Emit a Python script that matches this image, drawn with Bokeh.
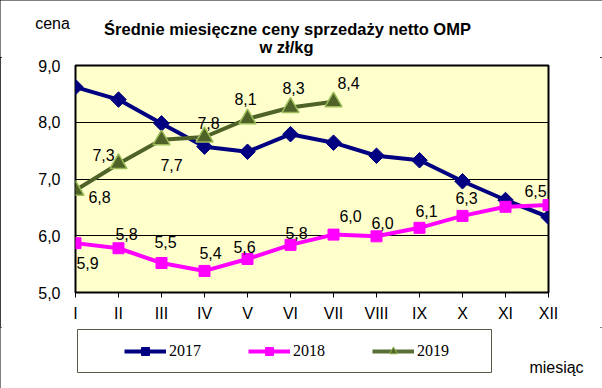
import math
from bokeh.plotting import figure
from bokeh.layouts import column
from bokeh.models import (ColumnDataSource, FixedTicker, Legend, LegendItem, Label,
                          BoxAnnotation, Range1d)
from bokeh.core.properties import value
from bokeh.embed import file_html
from bokeh.resources import INLINE

# ---------------- data ----------------
months = ["I", "II", "III", "IV", "V", "VI", "VII", "VIII", "IX", "X", "XI", "XII"]
y_ticks = [5.0, 6.0, 7.0, 8.0, 9.0]
y_tick_labels = ["5,0", "6,0", "7,0", "8,0", "9,0"]

series_names = ["2017", "2018", "2019"]
price_2017 = [8.62, 8.40, 7.98, 7.57, 7.48, 7.79, 7.64, 7.41, 7.33, 6.96, 6.63, 6.33]
price_2018 = [5.87, 5.78, 5.52, 5.38, 5.59, 5.84, 6.02, 5.99, 6.14, 6.35, 6.51, 6.54]
price_2019 = [6.80, 7.27, 7.69, 7.74, 8.06, 8.26, 8.36]

labels_2018 = ["5,9", "5,8", "5,5", "5,4", "5,6", "5,8", "6,0", "6,0", "6,1", "6,3", "", "6,5"]
labels_2019 = ["6,8", "7,3", "7,7", "7,8", "8,1", "8,3", "8,4"]

title_1 = "Średnie miesięczne ceny sprzedaży netto OMP"
title_2 = "w zł/kg"
y_name = "cena"
x_name = "miesiąc"

# label placement (pixels, style only)
dx_2018 = [12, 8, 4, 6, -3, 6, 17, 6, 7, 4, 0, -13]
dy_2018 = [20, -14, -21, -18, -12, -12, -19, -13, -17, -18, 0, -14]
dx_2019 = [24, -15, 10, 4, -2, 3, 15]
dy_2019 = [7, -9, 25, -14, -20, -19, -19]

FONT = "Liberation Sans"
W = 602
H_TOP, H_MAIN, H_BOT = 57, 270, 61
C17, C18, C19 = "#000080", "#FF00FF", "#4F6228"
NAN = [float("nan")]


def blank_fig(h):
    f = figure(width=W, height=h, x_range=Range1d(0, W), y_range=Range1d(h, 0),
               x_axis_location=None, y_axis_location=None, min_border=0,
               outline_line_color=None, toolbar_location=None, output_backend="svg",
               background_fill_color="white", border_fill_color="white", title=None,
               frame_align=False)
    f.grid.grid_line_color = None
    return f


def add_text(f, txt, x, y, size="16px", bold=False, font=FONT):
    f.add_layout(Label(x=x, y=y, text=txt, text_font=font, text_font_size=size,
                       text_font_style="bold" if bold else "normal",
                       text_align="center", text_baseline="middle", text_color="black"))


# ---------------- header ----------------
top = blank_fig(H_TOP)
add_text(top, y_name, 52, 23)
add_text(top, title_1, 287, 28, "16.5px", True)
add_text(top, title_2, 286, 46, "16.5px", True)

# ---------------- main chart ----------------
x_all = list(range(len(months)))

p = figure(width=W, height=H_MAIN, x_range=Range1d(0, len(months) - 1), y_range=Range1d(5, 9),
           output_backend="svg", toolbar_location=None, title=None, frame_align=False,
           min_border_left=75, min_border_right=54, min_border_top=8, min_border_bottom=35,
           background_fill_color="#FFFFCC", border_fill_color="white",
           outline_line_color="black", outline_line_width=2)

p.xaxis.ticker = FixedTicker(ticks=x_all)
p.xaxis.major_label_overrides = {i: m for i, m in enumerate(months)}
p.xaxis.axis_line_color = None
p.xaxis.major_tick_out = 5
p.xaxis.major_tick_in = 0
p.xaxis.major_tick_line_color = "black"
p.xaxis.minor_tick_line_color = None
p.xaxis.major_label_standoff = 7
p.xaxis.major_label_text_font = FONT
p.xaxis.major_label_text_font_size = "16px"
p.xaxis.major_label_text_color = "black"

p.yaxis.ticker = FixedTicker(ticks=y_ticks)
p.yaxis.major_label_overrides = {t: l for t, l in zip(y_ticks, y_tick_labels)}
p.yaxis.axis_line_color = None
p.yaxis.major_tick_line_color = None
p.yaxis.minor_tick_line_color = None
p.yaxis.major_tick_out = 0
p.yaxis.major_tick_in = 0
p.yaxis.major_label_standoff = 15
p.yaxis.major_label_text_font = FONT
p.yaxis.major_label_text_font_size = "16px"
p.yaxis.major_label_text_color = "black"

p.xgrid.grid_line_color = None
p.ygrid.grid_line_color = "black"
p.ygrid.grid_line_width = 1

src17 = ColumnDataSource(dict(x=x_all, y=price_2017))
src18 = ColumnDataSource(dict(x=x_all, y=price_2018))
src19 = ColumnDataSource(dict(x=x_all[:len(price_2019)], y=price_2019))

p.line("x", "y", source=src17, line_color=C17, line_width=4)
p.scatter("x", "y", source=src17, marker="square", size=11, angle=math.pi / 4,
          fill_color=C17, line_color=C17)
p.line("x", "y", source=src18, line_color=C18, line_width=4)
p.scatter("x", "y", source=src18, marker="square", size=11, fill_color=C18, line_color=C18)
p.line("x", "y", source=src19, line_color=C19, line_width=4)
p.scatter("x", "y", source=src19, marker="triangle", size=17,
          fill_color=C19, line_color="#9BBB59", line_width=1.5)

idx18 = [i for i, t in enumerate(labels_2018) if t]
lab18 = ColumnDataSource(dict(x=[x_all[i] for i in idx18], y=[price_2018[i] for i in idx18],
                              t=[labels_2018[i] for i in idx18],
                              dx=[dx_2018[i] for i in idx18], dy=[dy_2018[i] for i in idx18]))
lab19 = ColumnDataSource(dict(x=x_all[:len(price_2019)], y=price_2019, t=labels_2019,
                              dx=dx_2019, dy=dy_2019))
for s in (lab18, lab19):
    p.text("x", "y", text="t", x_offset="dx", y_offset="dy", source=s,
           text_font=value(FONT), text_font_size="16px", text_color="black",
           text_align="center", text_baseline="middle")

# ---------------- footer: legend + x name ----------------
bot = blank_fig(H_BOT)
g17 = [bot.line(x=NAN, y=NAN, line_color=C17, line_width=4),
       bot.scatter(x=NAN, y=NAN, marker="square", size=7, angle=math.pi / 4,
                   fill_color=C17, line_color=C17)]
g18 = [bot.line(x=NAN, y=NAN, line_color=C18, line_width=4),
       bot.scatter(x=NAN, y=NAN, marker="square", size=9, fill_color=C18, line_color=C18)]
g19 = [bot.line(x=NAN, y=NAN, line_color="#5A6E38", line_width=4),
       bot.scatter(x=NAN, y=NAN, marker="triangle", size=10, fill_color=C19,
                   line_color="#9BBB59", line_width=1)]
legend = Legend(items=[LegendItem(label=n, renderers=g) for n, g in zip(series_names, [g17, g18, g19])],
                orientation="horizontal", location=(124, 27), padding=0, spacing=46,
                glyph_width=42, glyph_height=20, label_standoff=3, label_width=33,
                label_text_font="Liberation Serif", label_text_font_size="16px",
                label_text_color="black",
                border_line_color=None, background_fill_alpha=0)
bot.add_layout(legend, "center")
bot.add_layout(BoxAnnotation(left=77, right=491, top=2, bottom=45,
                             fill_alpha=0, line_color="#5A5A48", line_width=1, line_alpha=1))
add_text(bot, x_name, 556, 40)

layout = column(top, p, bot, spacing=0,
                styles={"outline": "2px solid black", "outline-offset": "-2px"})

open("out.html", "w").write(file_html(layout, INLINE))
